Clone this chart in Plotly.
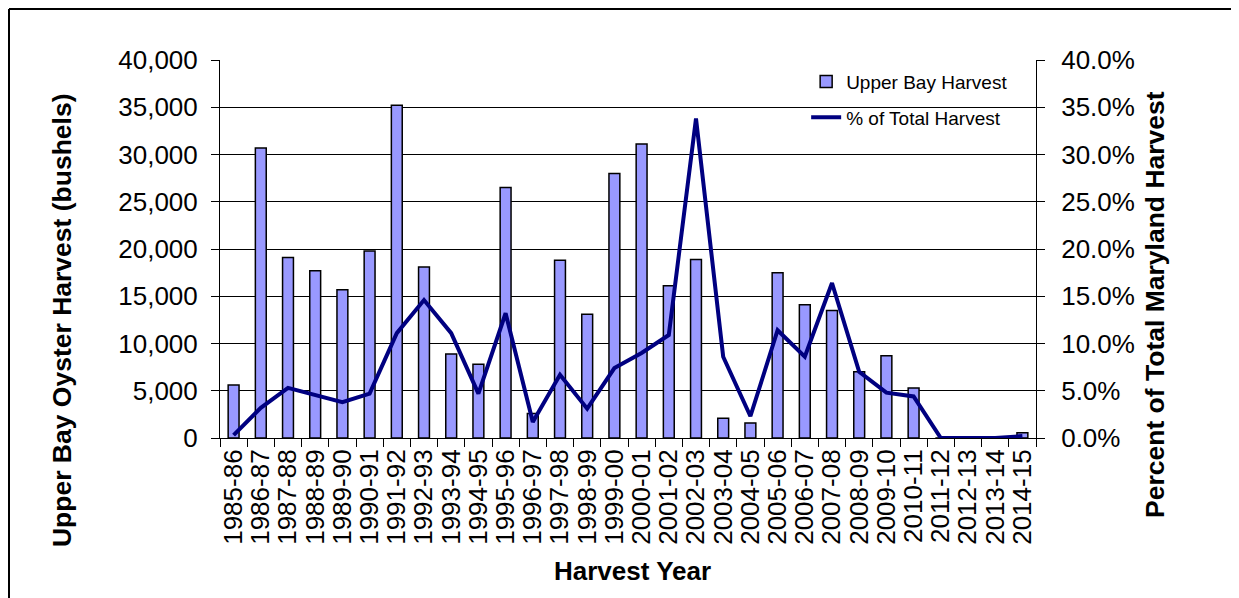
import plotly.graph_objects as go

# ── data ─────────────────────────────────────────────
seasons = [
    "1985-86", "1986-87", "1987-88", "1988-89", "1989-90", "1990-91",
    "1991-92", "1992-93", "1993-94", "1994-95", "1995-96", "1996-97",
    "1997-98", "1998-99", "1999-00", "2000-01", "2001-02", "2002-03",
    "2003-04", "2004-05", "2005-06", "2006-07", "2007-08", "2008-09",
    "2009-10", "2010-11", "2011-12", "2012-13", "2013-14", "2014-15",
]
upper_bay_bushels = [
    5600, 30700, 19100, 17700, 15700, 19800,
    35200, 18100, 8900, 7800, 26500, 2600,
    18800, 13100, 28000, 31100, 16100, 18900,
    2100, 1600, 17500, 14100, 13500, 7000,
    8700, 5300, 0, 0, 0, 550,
]
pct_of_total = [
    0.3, 3.2, 5.3, 4.5, 3.8, 4.7,
    11.1, 14.6, 11.1, 4.7, 13.2, 1.7,
    6.7, 3.1, 7.4, 9.0, 10.9, 33.8,
    8.6, 2.3, 11.4, 8.6, 16.4, 7.0,
    4.8, 4.4, 0.0, 0.0, 0.0, 0.2,
]

FONT = "Liberation Sans, Arial, sans-serif"

fig = go.Figure()
fig.add_trace(go.Bar(
    x=seasons, y=upper_bay_bushels, name="Upper Bay Harvest",
    width=0.4, marker=dict(color="#9999FF", line=dict(color="black", width=1.5)),
    legendgroup="a",
))
fig.add_trace(go.Scatter(
    x=seasons, y=pct_of_total, name="% of Total Harvest", yaxis="y2",
    mode="lines", line=dict(color="#000080", width=4),
    legendgroup="b",
))

axis_common = dict(
    showline=True, linecolor="black", linewidth=1,
    ticks="outside", ticklen=8, tickcolor="black",
    automargin=False,
)
tick_font = dict(family=FONT, size=26, color="black")

# the page adds an 8px body margin, so margins are trimmed by 8px
fig.update_layout(
    width=1239, height=598,
    margin=dict(l=212, r=211, t=52, b=168),
    paper_bgcolor="white", plot_bgcolor="white",
    font=dict(family=FONT, color="black"),
    xaxis=dict(
        **axis_common,
        type="category", tickmode="linear", tick0=0, dtick=1,
        tickson="boundaries", tickangle=-90,
        tickfont=dict(family=FONT, size=26, color="black"),
        showgrid=False,
    ),
    yaxis=dict(
        **axis_common,
        tickfont=tick_font,
        range=[0, 40000], dtick=5000, tickformat=",",
        showgrid=True, gridcolor="black", gridwidth=1, zeroline=False,
        ticklabelstandoff=8,
    ),
    yaxis2=dict(
        **axis_common,
        tickfont=tick_font,
        overlaying="y", side="right",
        range=[0, 40], dtick=5, tickformat=".1f", ticksuffix="%",
        showgrid=False, zeroline=False,
        ticklabelstandoff=11,
    ),
    legend=dict(
        x=0.972, y=0.993, xanchor="right", yanchor="top",
        bgcolor="rgba(0,0,0,0)", borderwidth=0,
        font=dict(family=FONT, size=19, color="black"),
        traceorder="grouped", tracegroupgap=8,
    ),
    showlegend=True,
)

# axis titles
title_font = dict(family=FONT, size=26.5, color="black")
fig.add_annotation(
    text="<b>Upper Bay Oyster Harvest (bushels)</b>", textangle=-90,
    xref="paper", yref="paper", x=-0.1936, y=0.312,
    xanchor="center", yanchor="middle", showarrow=False, font=title_font,
)
fig.add_annotation(
    text="<b>Percent of Total Maryland Harvest</b>", textangle=-90,
    xref="paper", yref="paper", x=1.1458, y=0.3545,
    xanchor="center", yanchor="middle", showarrow=False, font=title_font,
)
fig.add_annotation(
    text="<b>Harvest Year</b>",
    xref="paper", yref="paper", x=0.506, y=-0.352,
    xanchor="center", yanchor="middle", showarrow=False,
    font=dict(family=FONT, size=26, color="black"),
)

# outer chart frame (left and top edges visible), at the figure's edge
frame_x = -212 / 816 + 1 / 816
frame_y = 1 + 51 / 378
fig.add_shape(type="line", xref="paper", yref="paper",
              x0=frame_x, x1=frame_x, y0=-0.6, y1=frame_y,
              line=dict(color="black", width=2))
fig.add_shape(type="line", xref="paper", yref="paper",
              x0=frame_x, x1=1.4, y0=frame_y, y1=frame_y,
              line=dict(color="black", width=2))

fig.write_html("out.html")
